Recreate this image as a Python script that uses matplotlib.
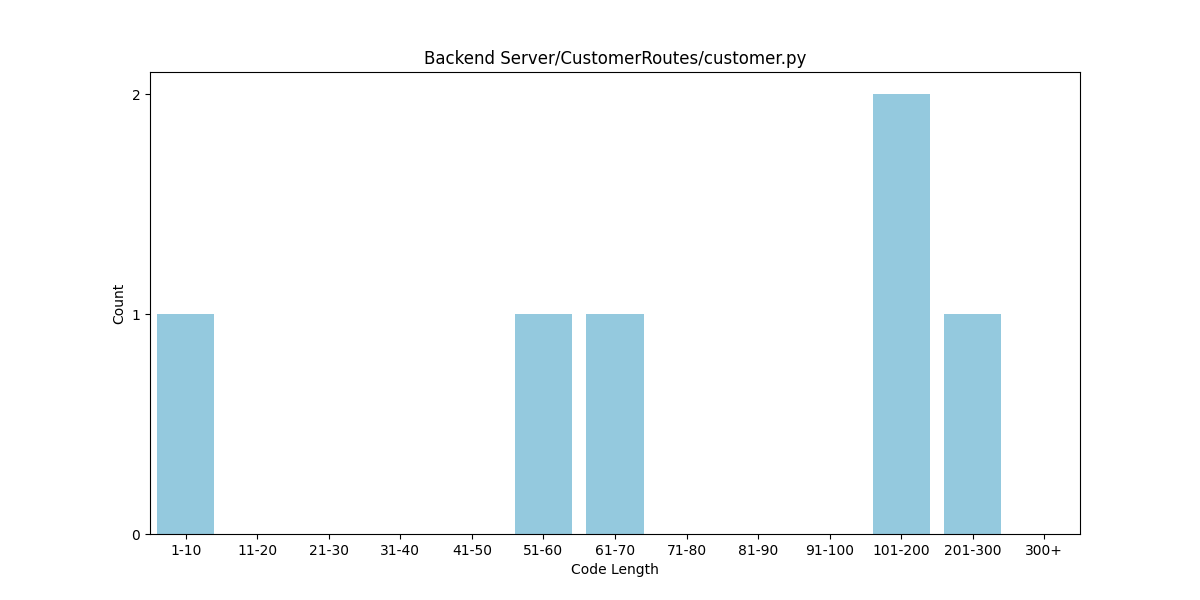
import matplotlib
matplotlib.use("Agg")
import matplotlib.pyplot as plt
from matplotlib.ticker import MaxNLocator
import seaborn as sns

ranges = ["1-10", "11-20", "21-30", "31-40", "41-50", "51-60", "61-70",
          "71-80", "81-90", "91-100", "101-200", "201-300", "300+"]
counts = [1, 0, 0, 0, 0, 1, 1, 0, 0, 0, 2, 1, 0]

plt.figure(figsize=(12, 6))
ax = sns.barplot(x=ranges, y=counts, color="skyblue")
ax.yaxis.set_major_locator(MaxNLocator(integer=True))
plt.xlabel("Code Length")
plt.ylabel("Count")
plt.title("Backend Server/CustomerRoutes/customer.py")
plt.savefig("out.png", dpi=100)
